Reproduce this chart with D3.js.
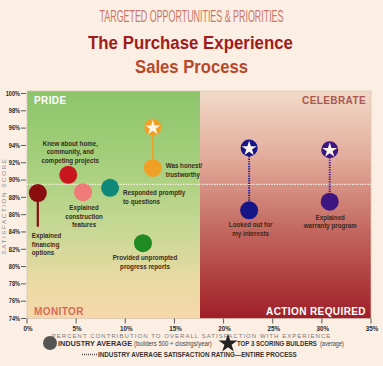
<!DOCTYPE html>
<html><head><meta charset="utf-8">
<script src="https://cdn.jsdelivr.net/npm/d3@7"></script>
<style>
html,body{margin:0;padding:0;background:#fbeee3;}
svg{display:block;}
text{font-family:"Liberation Sans",Arial,sans-serif;}
</style></head><body>
<svg id="c" width="383" height="366"></svg>
<script>
// ---------- data ----------
const categories = ["Explained financing options","Knew about home, community, and competing projects","Explained construction features","Responded promptly to questions","Was honest/ trustworthy","Provided unprompted progress reports","Looked out for my interests","Explained warranty program"];
const labelLines = [["Explained","financing","options"],["Knew about home,","community, and","competing projects"],["Explained","construction","features"],["Responded promptly","to questions"],["Was honest/","trustworthy"],["Provided unprompted","progress reports"],["Looked out for","my interests"],["Explained","warranty program"]];
const contribution = [1.1, 4.2, 5.7, 8.45, 12.8, 11.8, 22.6, 30.8];   // % contribution
const industryAvg  = [88.5, 90.6, 88.6, 89.1, 91.4, 82.7, 86.5, 87.5]; // satisfaction %
const top3Scores   = [84.6, null, null, null, 96.1, null, 93.7, 93.5];
const industryRating = 89.5;
const splitContribution = 17.6;
const xTicks = [0,5,10,15,20,25,30,35];
const yTicks = [74,76,78,80,82,84,86,88,90,92,94,96,98,100];
const quadrantLabels = ["PRIDE","CELEBRATE","MONITOR","ACTION REQUIRED"];

// ---------- style / layout ----------
const colors = ["#8a0e10","#c8161e","#f07a78","#0f8a78","#f0a024","#1d8a22","#161688","#3e1682"];
const connStyle = [{w:2.2,dash:null},null,null,null,{w:1.5,dash:null},null,{w:2,dash:"1.2,1.2"},{w:2,dash:"1.2,1.2"}];
// label layout: anchor, dx, dy (first baseline relative to circle center)
const labelPos = [["start",-6,45],["middle",2,-29],["middle",1,18],["start",13,7.5],["start",13,0],["middle",2,17],["middle",1.5,17],["middle",0.5,18]];

const svg = d3.select("#c");
const x = d3.scaleLinear().domain([0,35]).range([27,371]);
const y = d3.scaleLinear().domain([74,100]).range([318.5,93.5]);
const plotTop = 91, plotBot = 318.5;

// place a text so that it spans exactly `w` px horizontally (scaled, not spaced)
function fitText(parent, str, px, py, w, opts){
  const t = parent.append("text").attr("x",0).attr("y",0).attr("text-anchor",opts.anchor||"start")
    .attr("font-size",opts.size).attr("font-weight",opts.weight||"normal").attr("fill",opts.fill).text(str);
  if(opts.ls) t.attr("letter-spacing",opts.ls);
  const nat = t.node().getComputedTextLength();
  t.attr("transform",`translate(${px},${py}) scale(${w/nat},${opts.sy||1})`);
  return t;
}

const defs = svg.append("defs");
const gG = defs.append("linearGradient").attr("id","gG").attr("x1",0).attr("y1",0).attr("x2",0).attr("y2",1);
[[0,"#8cc46a"],[0.35,"#a8d07e"],[0.6,"#c6d894"],[0.85,"#ecdaa4"],[1,"#f6d8aa"]].forEach(s=>gG.append("stop").attr("offset",s[0]).attr("stop-color",s[1]));
const gR = defs.append("linearGradient").attr("id","gR").attr("x1",0).attr("y1",0).attr("x2",0).attr("y2",1);
[[0,"#f2dac8"],[0.3,"#e2aa9a"],[0.6,"#c46a62"],[1,"#a01e28"]].forEach(s=>gR.append("stop").attr("offset",s[0]).attr("stop-color",s[1]));

// title
fitText(svg,"TARGETED OPPORTUNITIES & PRIORITIES",191.5,22,184,{anchor:"middle",size:14,fill:"#c8786a",sy:1.2});
fitText(svg,"The Purchase Experience",190.5,49,205,{anchor:"middle",size:18,weight:"bold",fill:"#a01c1c"});
fitText(svg,"Sales Process",191.5,73,113,{anchor:"middle",size:18,weight:"bold",fill:"#b8482a"});

// backgrounds
svg.append("rect").attr("x",x(0)).attr("y",plotTop).attr("width",x(splitContribution)-x(0)).attr("height",plotBot-plotTop).attr("fill","url(#gG)");
svg.append("rect").attr("x",x(splitContribution)).attr("y",plotTop).attr("width",x(35)-x(splitContribution)).attr("height",plotBot-plotTop).attr("fill","url(#gR)");
svg.append("rect").attr("x",x(0)).attr("y",plotTop).attr("width",x(35)-x(0)).attr("height",plotBot-plotTop).attr("fill","none").attr("stroke","#d4c2b2").attr("stroke-width",0.7);

// quadrant labels
const ql = svg.append("g").attr("font-size",10).attr("font-weight","bold").attr("letter-spacing",0.4);
ql.append("text").attr("x",34).attr("y",104).attr("fill","#ffffff").text(quadrantLabels[0]);
ql.append("text").attr("x",366).attr("y",104).attr("text-anchor","end").attr("fill","#a85850").text(quadrantLabels[1]);
ql.append("text").attr("x",34).attr("y",315).attr("fill","#d86a5a").text(quadrantLabels[2]);
ql.append("text").attr("x",366).attr("y",315).attr("text-anchor","end").attr("fill","#ffffff").text(quadrantLabels[3]);

// industry rating line
svg.append("line").attr("x1",x(0)).attr("x2",x(35)).attr("y1",y(industryRating)).attr("y2",y(industryRating))
  .attr("stroke","#fff8e8").attr("stroke-width",1.3).attr("stroke-dasharray","1.3,1.3");

// axes
const yAxis = svg.append("g");
yTicks.forEach(t=>{
  yAxis.append("line").attr("x1",x(0)-6).attr("x2",x(0)-1).attr("y1",y(t)).attr("y2",y(t)).attr("stroke","#333").attr("stroke-width",0.8);
  yAxis.append("text").attr("transform",`translate(${x(0)-7},${y(t)+2.3}) scale(0.8,1)`).attr("text-anchor","end").attr("font-size",7).attr("font-weight","bold").attr("fill","#2a2a2a").text(t+"%");
});
const xAxis = svg.append("g");
xTicks.forEach(t=>{
  xAxis.append("line").attr("x1",x(t)).attr("x2",x(t)).attr("y1",plotBot).attr("y2",plotBot+5).attr("stroke","#333").attr("stroke-width",0.8);
  xAxis.append("text").attr("transform",`translate(${x(t)+1},331) scale(0.85,1)`).attr("text-anchor","middle").attr("font-size",7.4).attr("font-weight","bold").attr("fill","#2a2a2a").text(t+"%");
});
svg.append("text").attr("transform","translate(6,206) rotate(-90)").attr("text-anchor","middle").attr("font-size",6.2).attr("fill","#8a8a8a")
  .attr("letter-spacing",1.6).text("SATISFACTION SCORE");
svg.append("text").attr("x",191.5).attr("y",338).attr("text-anchor","middle").attr("font-size",6).attr("fill","#7a7a7a")
  .attr("letter-spacing",1.05).text("PERCENT CONTRIBUTION TO OVERALL SATISFACTION WITH EXPERIENCE");

// connectors
categories.forEach((c,i)=>{
  if(top3Scores[i]==null) return;
  const st = connStyle[i];
  svg.append("line").attr("x1",x(contribution[i])).attr("x2",x(contribution[i])).attr("y1",y(industryAvg[i])).attr("y2",y(top3Scores[i]))
    .attr("stroke",colors[i]).attr("stroke-width",st.w).attr("stroke-dasharray",st.dash);
});
// circles
svg.append("g").selectAll("circle").data(categories).join("circle")
  .attr("cx",(d,i)=>x(contribution[i])).attr("cy",(d,i)=>y(industryAvg[i])).attr("r",9).attr("fill",(d,i)=>colors[i]);
// stars
const starSym = d3.symbol(d3.symbolStar).size(70);
categories.forEach((c,i)=>{
  if(top3Scores[i]==null || top3Scores[i] < industryAvg[i]) return;
  const g = svg.append("g").attr("transform",`translate(${x(contribution[i])},${y(top3Scores[i])})`);
  g.append("circle").attr("r",8.5).attr("fill",colors[i]);
  g.append("path").attr("d",starSym()).attr("fill","#fff6ea").attr("transform","translate(0,0.6)");
});
// labels
categories.forEach((c,i)=>{
  const [anc,dx,dy] = labelPos[i];
  const t = svg.append("text").attr("text-anchor",anc).attr("font-size",7.6).attr("font-weight","bold").attr("fill","#3a2a1c")
    .attr("transform",`translate(${x(contribution[i])+dx},${y(industryAvg[i])+dy}) scale(0.82,1)`);
  labelLines[i].forEach((ln,j)=>{
    t.append("tspan").attr("x",0).attr("y",j*8.6).text(ln);
  });
});

// legend
const lg = svg.append("g");
lg.append("circle").attr("cx",50).attr("cy",343).attr("r",7).attr("fill","#555");
fitText(lg,"INDUSTRY AVERAGE",58,346,74,{size:7.6,weight:"bold",fill:"#333"});
fitText(lg,"(builders 500 + closings/year)",134,346,78,{size:6.8,fill:"#444"});
lg.append("path").attr("d",d3.symbol(d3.symbolStar).size(110)()).attr("transform","translate(228,343.5)").attr("fill","#222");
fitText(lg,"TOP 3 SCORING BUILDERS",237,346,80,{size:7.6,weight:"bold",fill:"#333"});
fitText(lg,"(average)",320,346,24,{size:6.8,fill:"#444"});
lg.append("line").attr("x1",82).attr("x2",97).attr("y1",354.5).attr("y2",354.5).attr("stroke","#555").attr("stroke-width",1.3).attr("stroke-dasharray","1,1");
fitText(lg,"INDUSTRY AVERAGE SATISFACTION RATING\u2014ENTIRE PROCESS",98,357,199,{size:7.6,weight:"bold",fill:"#333"});
</script>
</body></html>
